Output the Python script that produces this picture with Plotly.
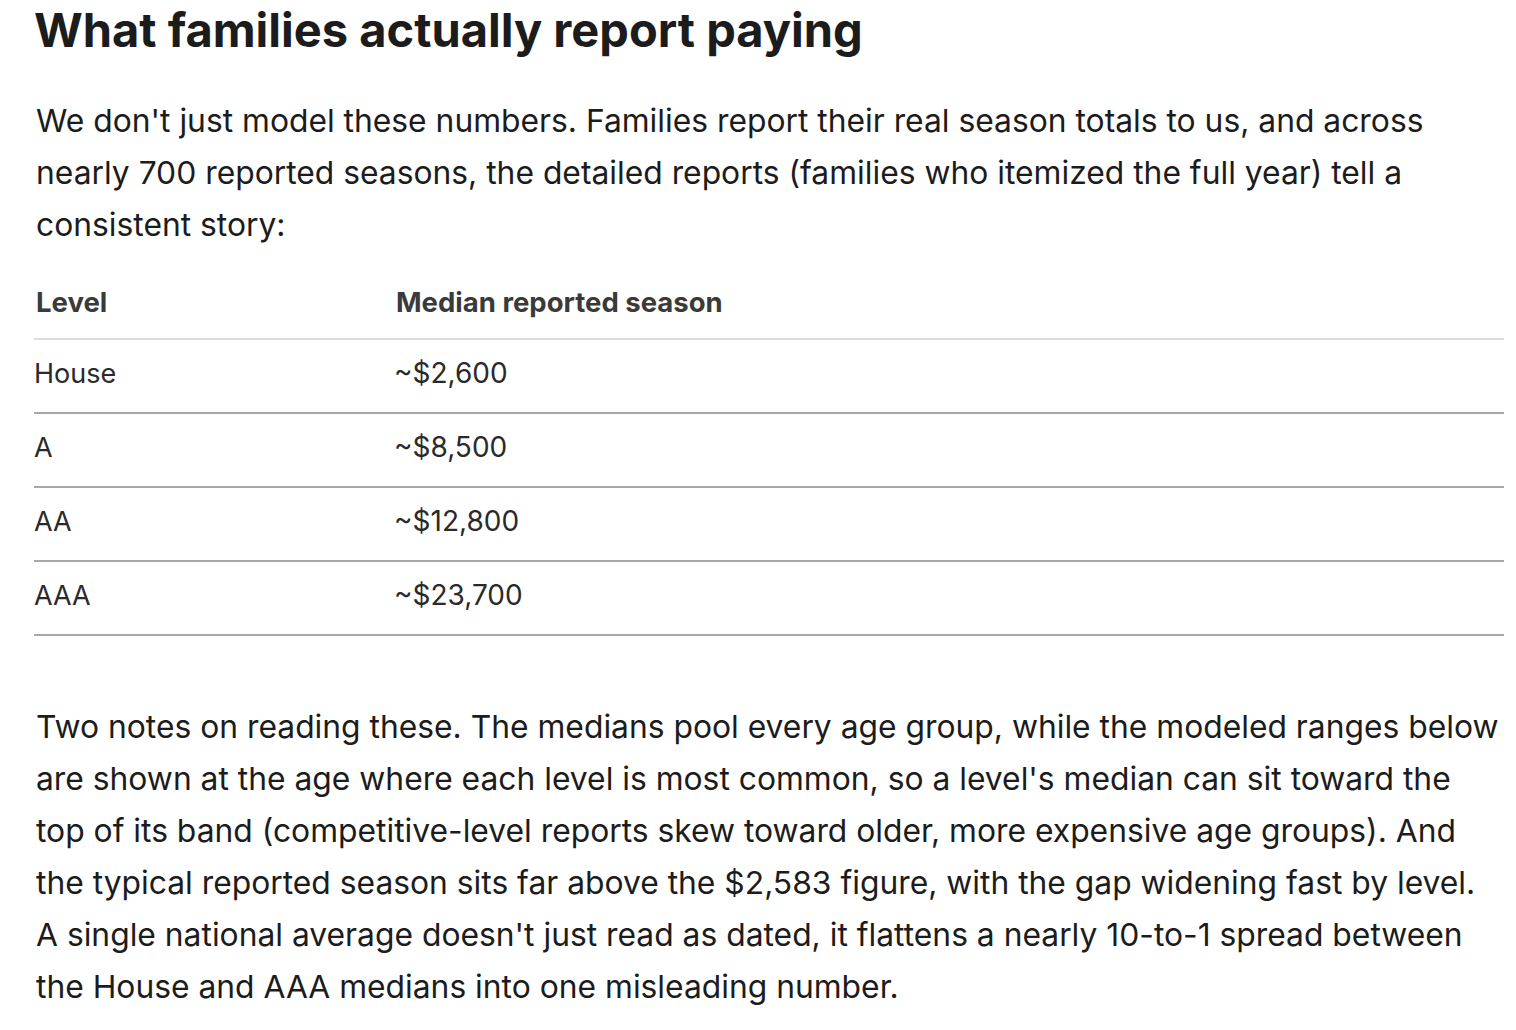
import plotly.graph_objects as go

title = "What families actually report paying"
intro_lines = [
    "We don't just model these numbers. Families report their real season totals to us, and across",
    "nearly 700 reported seasons, the detailed reports (families who itemized the full year) tell a",
    "consistent story:",
]
headers = ["Level", "Median reported season"]
levels = ["House", "A", "AA", "AAA"]
medians = ["~$2,600", "~$8,500", "~$12,800", "~$23,700"]
notes_lines = [
    "Two notes on reading these. The medians pool every age group, while the modeled ranges below",
    "are shown at the age where each level is most common, so a level's median can sit toward the",
    "top of its band (competitive-level reports skew toward older, more expensive age groups). And",
    "the typical reported season sits far above the $2,583 figure, with the gap widening fast by level.",
    "A single national average doesn't just read as dated, it flattens a nearly 10-to-1 spread between",
    "the House and AAA medians into one misleading number.",
]

FONT = "Inter, Noto Sans, sans-serif"
INK = "#1c1c1c"
DX, DY = -9, -9  # renderer offset correction
LEFT, COL2, RIGHT = 35 + DX, 395 + DX, 1505 + DX
ROW0, ROW_H = 377 + DY, 74
LINE_H = 52

fig = go.Figure()

# table body as a text trace on the pixel-like axes
fig.add_trace(go.Scatter(
    x=[LEFT] * len(levels), y=[ROW0 + ROW_H * i for i in range(len(levels))],
    text=levels, mode="text", textposition="middle right",
    textfont=dict(family=FONT, size=27, color="#2a2a2a"), hoverinfo="skip"))
fig.add_trace(go.Scatter(
    x=[COL2] * len(medians), y=[ROW0 + ROW_H * i for i in range(len(medians))],
    text=medians, mode="text", textposition="middle right",
    textfont=dict(family=FONT, size=28, color="#2a2a2a"), hoverinfo="skip"))

ann = [dict(x=LEFT - 2, y=30 + DY, text="<b>" + title + "</b>",
            font=dict(family=FONT, size=47, color=INK))]
for i, t in enumerate(intro_lines):
    ann.append(dict(x=LEFT, y=121 + DY + LINE_H * i, text=t,
                    font=dict(family=FONT, size=31.8, color=INK)))
for x, h in zip([LEFT, COL2], headers):
    ann.append(dict(x=x, y=303 + DY, text="<b>" + h + "</b>",
                    font=dict(family=FONT, size=27.5, color="#3a3a3a")))
for i, t in enumerate(notes_lines):
    ann.append(dict(x=LEFT, y=727 + DY + LINE_H * i, text=t,
                    font=dict(family=FONT, size=31.8, color=INK)))
for a in ann:
    a.update(xref="x", yref="y", xanchor="left", yanchor="middle", showarrow=False)

shapes = [dict(type="line", xref="x", yref="y", x0=LEFT, x1=RIGHT,
               y0=340 + DY, y1=340 + DY, line=dict(color="#d0d0d0", width=1.5))]
for i in range(len(levels)):
    y = ROW0 - 37 + ROW_H * (i + 1)
    shapes.append(dict(type="line", xref="x", yref="y", x0=LEFT, x1=RIGHT,
                       y0=y, y1=y, line=dict(color="#8a8a96", width=1.5)))

fig.update_layout(
    width=1516, height=1030, margin=dict(l=0, r=0, t=0, b=0),
    paper_bgcolor="white", plot_bgcolor="white", showlegend=False,
    xaxis=dict(range=[0, 1516], visible=False, fixedrange=True),
    yaxis=dict(range=[1030, 0], visible=False, fixedrange=True),
    annotations=ann, shapes=shapes)

fig.write_html("out.html")
